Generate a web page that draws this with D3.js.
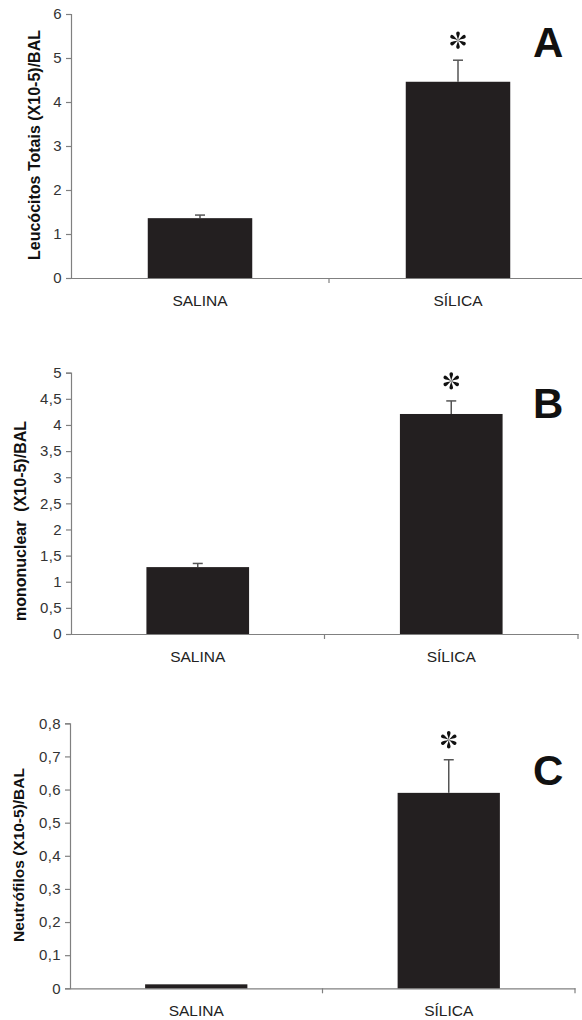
<!DOCTYPE html>
<html>
<head>
<meta charset="utf-8">
<script src="https://cdn.jsdelivr.net/npm/d3@7"></script>
<style>
  html, body { margin: 0; padding: 0; background: #fff; }
  svg { display: block; }
</style>
</head>
<body>
<script>
// ---- Data ----
const categories = ["SALINA", "SÍLICA"];

const leucocitosMeans = [1.36, 4.46];
const leucocitosErrors = [0.07, 0.49];
const leucocitosTicks = [0, 1, 2, 3, 4, 5, 6];

const mononuclearMeans = [1.28, 4.21];
const mononuclearErrors = [0.07, 0.25];
const mononuclearTicks = [0, 0.5, 1, 1.5, 2, 2.5, 3, 3.5, 4, 4.5, 5];

const neutrofilosMeans = [0.012, 0.59];
const neutrofilosErrors = [0, 0.10];
const neutrofilosTicks = [0, 0.1, 0.2, 0.3, 0.4, 0.5, 0.6, 0.7, 0.8];

const significant = [false, true];

const panels = [
  { letter: "A", ylabel: "Leucócitos Totais (X10-5)/BAL", means: leucocitosMeans, errors: leucocitosErrors, ticks: leucocitosTicks,
    x0: 71, x1: 587, yTop: 14, yBottom: 278, labelX: 34, labelY: 145, labelSize: 16, letterY: 57 },
  { letter: "B", ylabel: "mononuclear  (X10-5)/BAL", means: mononuclearMeans, errors: mononuclearErrors, ticks: mononuclearTicks,
    x0: 71, x1: 578, yTop: 372.7, yBottom: 634, labelX: 20, labelY: 521, labelSize: 16, letterY: 418 },
  { letter: "C", ylabel: "Neutrófilos (X10-5)/BAL", means: neutrofilosMeans, errors: neutrofilosErrors, ticks: neutrofilosTicks,
    x0: 70, x1: 575, yTop: 723.3, yBottom: 988.3, labelX: 18, labelY: 855, labelSize: 15.5, letterY: 785 }
];

const W = 582, H = 1020;
const svg = d3.select("body").append("svg").attr("width", W).attr("height", H);

const axisColor = "#808080";
const barColor = "#231f20";
const FONT = "Liberation Sans, Arial, sans-serif";
const fmt = v => String(v).replace(".", ",");

// six-armed teardrop asterisk arm
const armPath = "M0,0 C-0.5,-3 -1.9,-5.6 -1.8,-6.9 A1.8,1.8 0 0 1 1.8,-6.9 C1.9,-5.6 0.5,-3 0,0 Z";

panels.forEach(p => {
  const g = svg.append("g");
  const yMax = p.ticks[p.ticks.length - 1];
  const y = d3.scaleLinear().domain([0, yMax]).range([p.yBottom, p.yTop]);
  const x = d3.scaleBand().domain(categories).range([p.x0, p.x1]).paddingInner(0.595).paddingOuter(0.2975);

  // Y axis
  const yAxis = d3.axisLeft(y).tickValues(p.ticks).tickFormat(fmt).tickSize(5).tickPadding(4);
  const yg = g.append("g").attr("transform", `translate(${p.x0},0)`).call(yAxis);
  yg.select(".domain").attr("stroke", axisColor).attr("stroke-width", 1.2);
  yg.selectAll(".tick line").attr("stroke", axisColor).attr("stroke-width", 1.2);
  yg.selectAll(".tick text").attr("fill", "#333").style("font-family", FONT).style("font-size", "15px")
    .style("letter-spacing", "0.4px");

  // X axis
  const xAxis = d3.axisBottom(x).tickSize(0).tickPadding(17);
  const xg = g.append("g").attr("transform", `translate(0,${p.yBottom})`).call(xAxis);
  xg.select(".domain").attr("stroke", axisColor).attr("stroke-width", 1.2);
  xg.selectAll(".tick text").attr("fill", "#222").style("font-family", FONT).style("font-size", "15.5px");

  // category boundary ticks
  const bounds = categories.map(c => x(c) + x.bandwidth() / 2 + x.step() / 2);
  g.selectAll(".bt").data(bounds).join("line")
    .attr("x1", d => d).attr("x2", d => d)
    .attr("y1", p.yBottom).attr("y2", p.yBottom + 5)
    .attr("stroke", axisColor).attr("stroke-width", 1.2);

  const data = categories.map((c, i) => ({ c, m: p.means[i], e: p.errors[i], s: significant[i] }));

  // Error bars (upper)
  data.filter(d => d.e > 0).forEach(d => {
    const cx = x(d.c) + x.bandwidth() / 2;
    g.append("line").attr("x1", cx).attr("x2", cx).attr("y1", y(d.m)).attr("y2", y(d.m + d.e))
      .attr("stroke", "#555").attr("stroke-width", 1.5);
    g.append("line").attr("x1", cx - 5).attr("x2", cx + 5).attr("y1", y(d.m + d.e)).attr("y2", y(d.m + d.e))
      .attr("stroke", "#555").attr("stroke-width", 1.5);
  });

  // Bars
  g.selectAll(".bar").data(data).join("rect")
    .attr("x", d => x(d.c)).attr("width", x.bandwidth())
    .attr("y", d => y(d.m)).attr("height", d => y(0) - y(d.m))
    .attr("fill", barColor);

  // Asterisk
  data.filter(d => d.s).forEach(d => {
    const cx = x(d.c) + x.bandwidth() / 2;
    const ast = g.append("g").attr("transform", `translate(${cx},${y(d.m + d.e) - 20})`);
    [0, 60, 120, 180, 240, 300].forEach(a => {
      ast.append("path").attr("d", armPath).attr("transform", `rotate(${a})`).attr("fill", "#111");
    });
  });

  // Panel letter
  g.append("text").attr("x", 533).attr("y", p.letterY)
    .style("font-family", FONT).style("font-weight", "bold").style("font-size", "42px")
    .attr("fill", "#111").text(p.letter);

  // Y label
  g.append("text").attr("transform", `translate(${p.labelX},${p.labelY}) rotate(-90)`)
    .attr("text-anchor", "middle").attr("dominant-baseline", "central")
    .style("font-family", FONT).style("font-weight", "bold").style("font-size", p.labelSize + "px")
    .style("white-space", "pre")
    .attr("fill", "#111").text(p.ylabel);
});
</script>
</body>
</html>
